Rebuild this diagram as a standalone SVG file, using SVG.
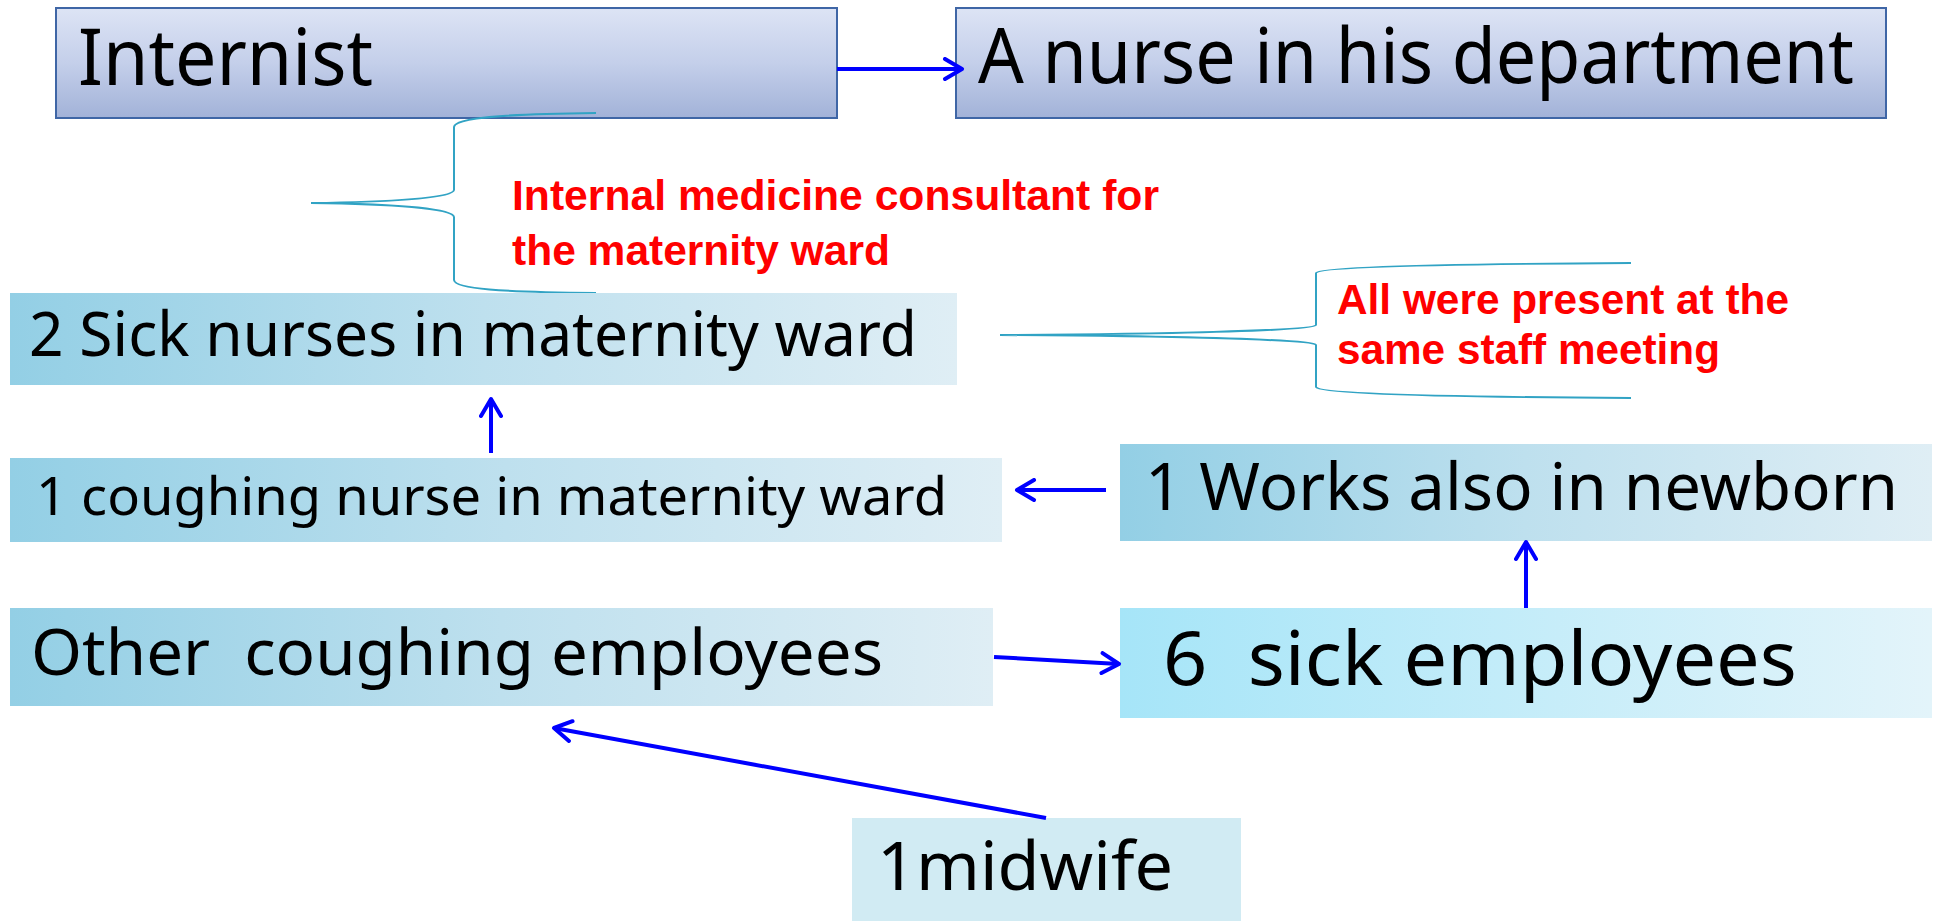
<svg xmlns="http://www.w3.org/2000/svg" width="1934" height="921" viewBox="0 0 1934 921">
<defs>
<linearGradient id="gTop" x1="0" y1="0" x2="0" y2="1">
<stop offset="0" stop-color="#DDE4F5"/>
<stop offset="0.5" stop-color="#C4CFEA"/>
<stop offset="1" stop-color="#A2B2D8"/>
</linearGradient>
<linearGradient id="gRow" x1="0" y1="0" x2="1" y2="0">
<stop offset="0" stop-color="#93CFE5"/>
<stop offset="0.5" stop-color="#BEE0EE"/>
<stop offset="1" stop-color="#DFEEF5"/>
</linearGradient>
<linearGradient id="gSix" x1="0" y1="0" x2="1" y2="0">
<stop offset="0" stop-color="#A6E5F8"/>
<stop offset="1" stop-color="#E3F4FA"/>
</linearGradient>
<marker id="arr" viewBox="0 0 24 24" refX="21" refY="12" markerWidth="24" markerHeight="24" markerUnits="userSpaceOnUse" orient="auto">
<path d="M4,2 L21,12 L4,22" fill="none" stroke="#0000FF" stroke-width="4" stroke-linecap="round" stroke-linejoin="round"/>
</marker>
</defs>
<style>
.top{fill:url(#gTop);stroke:#3F66A6;stroke-width:2}
.row{fill:url(#gRow)}
.six{fill:url(#gSix)}
.mid{fill:#D1EBF3}
.t{font-family:"Noto Sans","Liberation Sans",sans-serif;fill:#000}
.red{font-family:"Liberation Sans",Arial,sans-serif;font-weight:bold;font-size:42px;fill:#FF0000}
.brace{fill:none;stroke:#31A3C4;stroke-width:2}
.conn{fill:none;stroke:#0000FF;stroke-width:4;marker-end:url(#arr)}
</style>
<rect width="1934" height="921" fill="#FFFFFF"/>
<g id="internist">
<rect class="top" x="56" y="8" width="781" height="110"/>
<text class="t" x="78" y="85" font-size="78" textLength="295" lengthAdjust="spacingAndGlyphs">Internist</text>
</g>
<g id="nurse-dept">
<rect class="top" x="956" y="8" width="930" height="110"/>
<text class="t" x="978" y="83" font-size="76" textLength="876" lengthAdjust="spacingAndGlyphs">A nurse in his department</text>
</g>
<g id="note-consultant">
<path class="brace" d="M596,113 C500,114 455,118 454,127 L454,190 C453,198 390,202 311,203 C390,204 453,208 454,217 L454,280 C455,289 500,292 596,293"/>
<text class="red" x="512" y="210" textLength="647" lengthAdjust="spacingAndGlyphs">Internal medicine consultant for</text>
<text class="red" x="512" y="265" textLength="378" lengthAdjust="spacingAndGlyphs">the maternity ward</text>
</g>
<g id="sick-nurses">
<rect class="row" x="10" y="293" width="947" height="92"/>
<text class="t" x="29" y="356" font-size="62" textLength="888" lengthAdjust="spacingAndGlyphs">2 Sick nurses in maternity ward</text>
</g>
<g id="note-meeting">
<path class="brace" d="M1631,263 C1450,264 1318,267 1316,273 L1316,325 C1314,331 1150,334 1000,335 C1150,336 1314,339 1316,345 L1316,387 C1318,394 1450,397 1631,398"/>
<text class="red" x="1337" y="314" textLength="452" lengthAdjust="spacingAndGlyphs">All were present at the</text>
<text class="red" x="1337" y="364" textLength="383" lengthAdjust="spacingAndGlyphs">same staff meeting</text>
</g>
<g id="coughing-nurse">
<rect class="row" x="10" y="458" width="992" height="84"/>
<text class="t" x="36" y="515" font-size="52" textLength="911" lengthAdjust="spacingAndGlyphs">1 coughing nurse in maternity ward</text>
</g>
<g id="works-newborn">
<rect class="row" x="1120" y="444" width="812" height="97"/>
<text class="t" x="1145" y="510" font-size="66" textLength="753" lengthAdjust="spacingAndGlyphs">1 Works also in newborn</text>
</g>
<g id="other-coughing">
<rect class="row" x="10" y="608" width="983" height="98"/>
<text class="t" x="31" y="675" font-size="64" textLength="852" lengthAdjust="spacingAndGlyphs" xml:space="preserve">Other  coughing employees</text>
</g>
<g id="six-sick">
<rect class="six" x="1120" y="608" width="812" height="110"/>
<text class="t" x="1163" y="685" font-size="74" textLength="634" lengthAdjust="spacingAndGlyphs" xml:space="preserve">6  sick employees</text>
</g>
<g id="midwife">
<rect class="mid" x="852" y="818" width="389" height="103"/>
<text class="t" x="877" y="890" font-size="68" textLength="296" lengthAdjust="spacingAndGlyphs">1midwife</text>
</g>
<g id="connectors">
<line class="conn" x1="837" y1="69" x2="962" y2="69"/>
<line class="conn" x1="491" y1="453" x2="491" y2="399"/>
<line class="conn" x1="1106" y1="490" x2="1017" y2="490"/>
<line class="conn" x1="1526" y1="608" x2="1526" y2="542"/>
<line class="conn" x1="994" y1="657" x2="1119" y2="664"/>
<line class="conn" x1="1046" y1="818" x2="554" y2="728"/>
</g>
</svg>
